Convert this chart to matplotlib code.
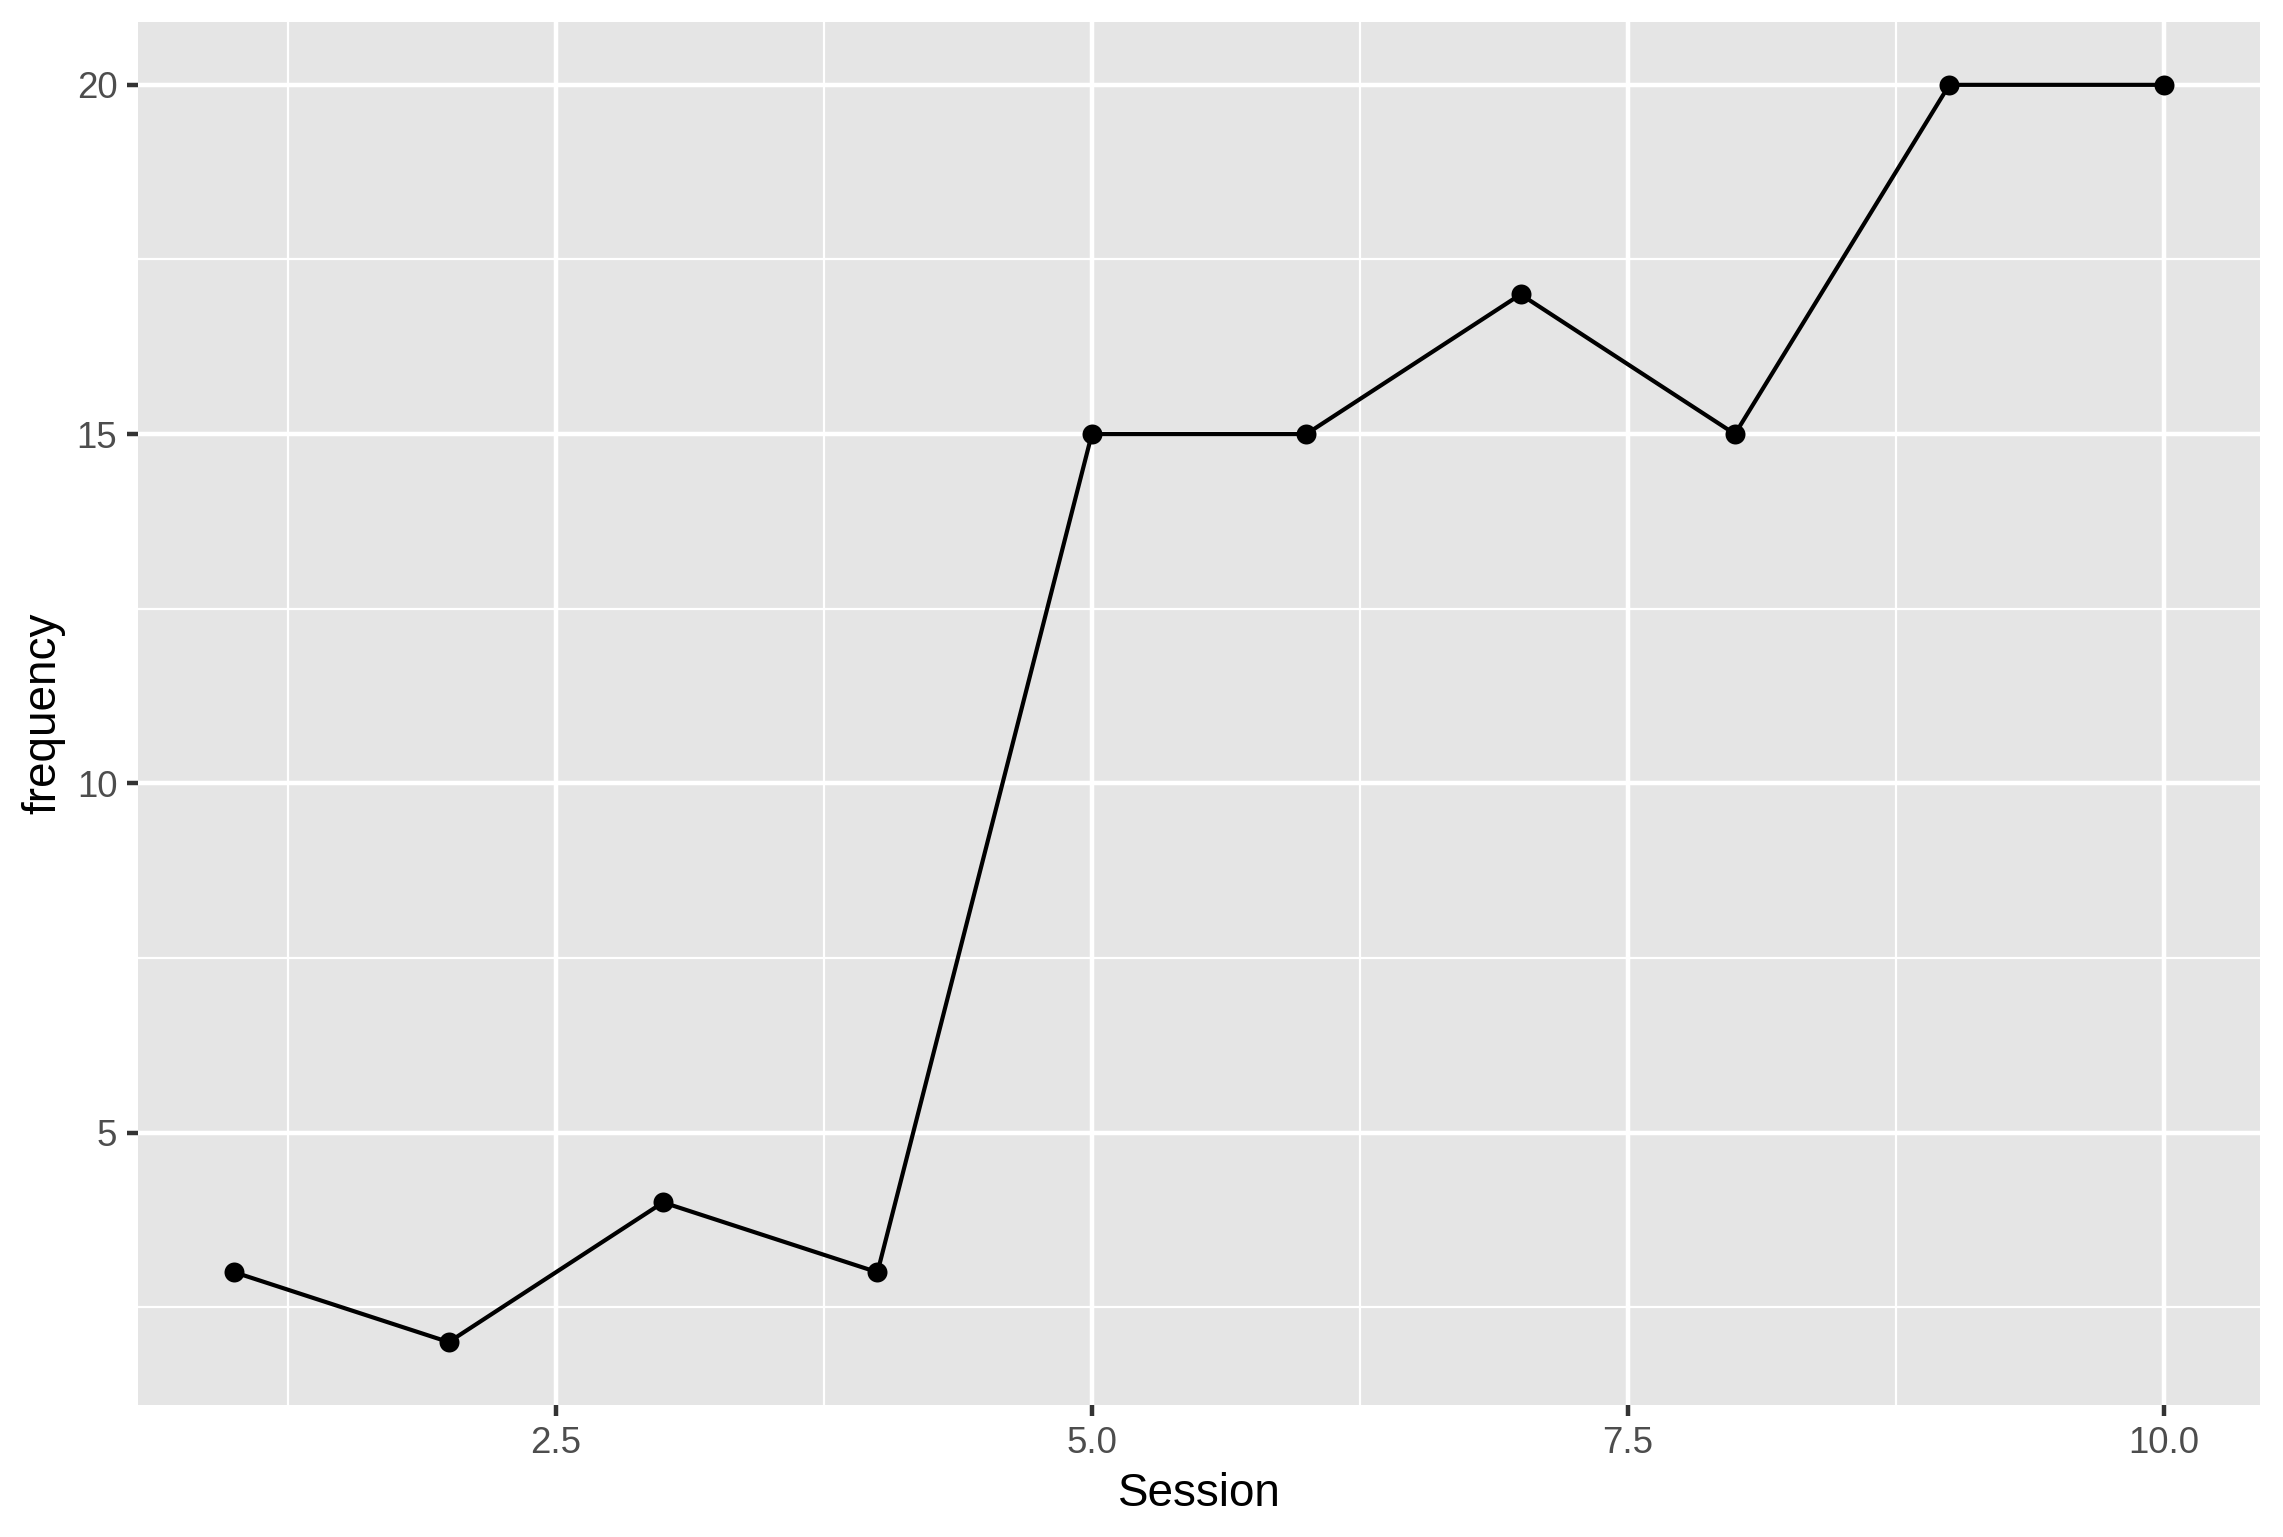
import numpy as np
import matplotlib
matplotlib.use("Agg")
import matplotlib.pyplot as plt
from matplotlib.ticker import FixedLocator

# data
session = [1, 2, 3, 4, 5, 6, 7, 8, 9, 10]
frequency = [3, 2, 4, 3, 15, 15, 17, 15, 20, 20]

x_major = [2.5, 5.0, 7.5, 10.0]
x_minor = [1.25, 3.75, 6.25, 8.75]
y_major = [5, 10, 15, 20]
y_minor = [2.5, 7.5, 12.5, 17.5]

plt.rcParams['font.family'] = ['Liberation Sans', 'DejaVu Sans']

fig = plt.figure(figsize=(2283 / 300, 1537 / 300), dpi=300)
ax = fig.add_axes([0.0604, 0.0859, 0.9296, 0.8998])

ax.set_facecolor('#E5E5E5')
for s in ax.spines.values():
    s.set_visible(False)

# ggplot default expansion
xr = max(session) - min(session)
yr = max(frequency) - min(frequency)
ax.set_xlim(min(session) - 0.05 * xr, max(session) + 0.05 * xr)
ax.set_ylim(min(frequency) - 0.05 * yr, max(frequency) + 0.05 * yr)

ax.xaxis.set_major_locator(FixedLocator(x_major))
ax.xaxis.set_minor_locator(FixedLocator(x_minor))
ax.yaxis.set_major_locator(FixedLocator(y_major))
ax.yaxis.set_minor_locator(FixedLocator(y_minor))
ax.set_xticklabels(['%.1f' % v for v in x_major])
ax.set_yticklabels([str(v) for v in y_major])

ax.grid(which='major', color='white', linewidth=1.07)
ax.grid(which='minor', color='white', linewidth=0.53)
ax.set_axisbelow(True)

ax.tick_params(which='major', length=2.75, width=1.07, color='#333333',
               labelsize=8.8, labelcolor='#4D4D4D', pad=2.2)
ax.tick_params(which='minor', length=0)

ax.plot(session, frequency, color='black', linewidth=1.0, zorder=3)
ax.scatter(session, frequency, s=23, color='black', zorder=4, linewidths=0)

ax.set_xlabel('Session', fontsize=11, labelpad=2.75)
ax.set_ylabel('frequency', fontsize=11, labelpad=2.75)

fig.savefig('out.png', dpi=300, facecolor='white')
